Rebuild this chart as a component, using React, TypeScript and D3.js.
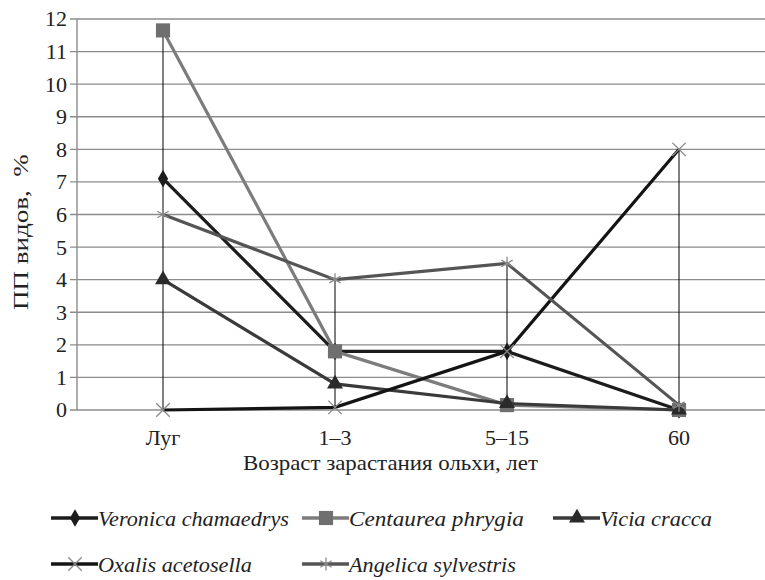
import { useLayoutEffect, useRef, useState } from "react";
import * as d3 from "d3";

const categories = ["Луг", "1–3", "5–15", "60"];
const seriesNames = [
  "Veronica chamaedrys",
  "Centaurea phrygia",
  "Vicia cracca",
  "Oxalis acetosella",
  "Angelica sylvestris",
];
const veronica = [7.1, 1.8, 1.8, 0];
const centaurea = [11.65, 1.8, 0.15, 0];
const vicia = [4, 0.8, 0.2, 0];
const oxalis = [0, 0.08, 1.8, 8];
const angelica = [6, 4, 4.5, 0.15];
const yTicks = d3.range(0, 13);

const width = 765;
const height = 580;
const plot = { left: 77, right: 765, top: 19, bottom: 410 };

const styles = [
  { color: "#1c1c1c", marker: d3.symbolDiamond, size: 90, markColor: "#1c1c1c", stroke: false },
  { color: "#7c7c7c", marker: d3.symbolSquare, size: 200, markColor: "#6f6f6f", stroke: false },
  { color: "#3a3a3a", marker: d3.symbolTriangle, size: 110, markColor: "#2a2a2a", stroke: false },
  { color: "#141414", marker: d3.symbolX, size: 120, markColor: "#8a8a8a", stroke: true },
  { color: "#555555", marker: d3.symbolAsterisk, size: 120, markColor: "#8a8a8a", stroke: true },
];

// legend text widths as measured on the reference
const legendWidths = [191, 175, 112, 154, 167];

const font = "Liberation Serif";

// text fitted horizontally to a target width with a real transform
const FitText = ({ x, y, w, rotate = 0, style, children }: any) => {
  const ref = useRef<SVGTextElement>(null);
  const [k, setK] = useState(1);
  useLayoutEffect(() => {
    if (ref.current) {
      const len = ref.current.getComputedTextLength();
      if (len > 0) setK(w / len);
    }
  }, [w, children]);
  return (
    <g transform={`translate(${x},${y}) rotate(${rotate}) scale(${k},1)`}>
      <text ref={ref} style={style}>
        {children}
      </text>
    </g>
  );
};

const App = () => {
  const data = [veronica, centaurea, vicia, oxalis, angelica];
  const x = d3.scaleBand().domain(categories).range([plot.left, plot.right]);
  const y = d3.scaleLinear().domain([0, 12]).range([plot.bottom, plot.top]);
  const cx = (c: string) => x(c)! + x.bandwidth() / 2;
  const line = d3
    .line<number>()
    .x((_, i) => cx(categories[i]))
    .y((d) => y(d));

  const markerPath = (i: number) => d3.symbol(styles[i].marker, styles[i].size)()!;
  const Marker = ({ i, tx, ty }: { i: number; tx: number; ty: number }) =>
    styles[i].stroke ? (
      <path d={markerPath(i)} transform={`translate(${tx},${ty})`} fill="none" stroke={styles[i].markColor} strokeWidth={1.3} />
    ) : (
      <path d={markerPath(i)} transform={`translate(${tx},${ty})`} fill={styles[i].markColor} />
    );

  const legendPos = [
    [51, 518],
    [302, 518],
    [553, 518],
    [51, 564],
    [302, 564],
  ];

  const txt = { fontFamily: font, fontSize: 22, fill: "#222" };

  return (
    <svg width={width} height={height} style={{ position: "absolute", left: 0, top: 0, background: "#fff" }}>
      {/* grid */}
      {yTicks.map((t) => (
        <line key={t} x1={plot.left - 7} x2={plot.right} y1={y(t)} y2={y(t)} stroke="#8c8c8c" strokeWidth={1.4} />
      ))}
      <line x1={plot.left} x2={plot.left} y1={plot.top} y2={plot.bottom} stroke="#8c8c8c" strokeWidth={1.4} />
      {yTicks.map((t) => (
        <text key={t} x={plot.left - 10} y={y(t)} dy="0.34em" textAnchor="end" style={txt}>
          {t}
        </text>
      ))}
      {/* high-low lines */}
      {categories.map((c, i) => {
        const vals = data.map((s) => s[i]);
        return (
          <line key={c} x1={cx(c)} x2={cx(c)} y1={y(d3.max(vals)!)} y2={y(d3.min(vals)!)} stroke="#000" strokeWidth={1} />
        );
      })}
      {data.map((s, i) => (
        <g key={i}>
          <path d={line(s)!} fill="none" stroke={styles[i].color} strokeWidth={3.2} />
          {s.map((v, j) => (
            <Marker key={j} i={i} tx={cx(categories[j])} ty={y(v)} />
          ))}
        </g>
      ))}
      {categories.map((c) => (
        <text key={c} x={cx(c)} y={445} textAnchor="middle" style={txt}>
          {c}
        </text>
      ))}
      <FitText x={243} y={470} w={295} style={txt}>
        Возраст зарастания ольхи, лет
      </FitText>
      <FitText x={28} y={310} w={156} rotate={-90} style={{ ...txt, whiteSpace: "pre" }}>
        ПП видов,  %
      </FitText>
      {/* legend */}
      {seriesNames.map((n, i) => {
        const [lx, ly] = legendPos[i];
        return (
          <g key={n}>
            <line x1={lx} x2={lx + 47} y1={ly} y2={ly} stroke={styles[i].color} strokeWidth={3.4} />
            <Marker i={i} tx={lx + 24} ty={ly} />
            <FitText x={lx + 47} y={ly + 8} w={legendWidths[i]} style={{ ...txt, fontSize: 22, fontStyle: "italic" }}>
              {n}
            </FitText>
          </g>
        );
      })}
    </svg>
  );
};

export default App;
